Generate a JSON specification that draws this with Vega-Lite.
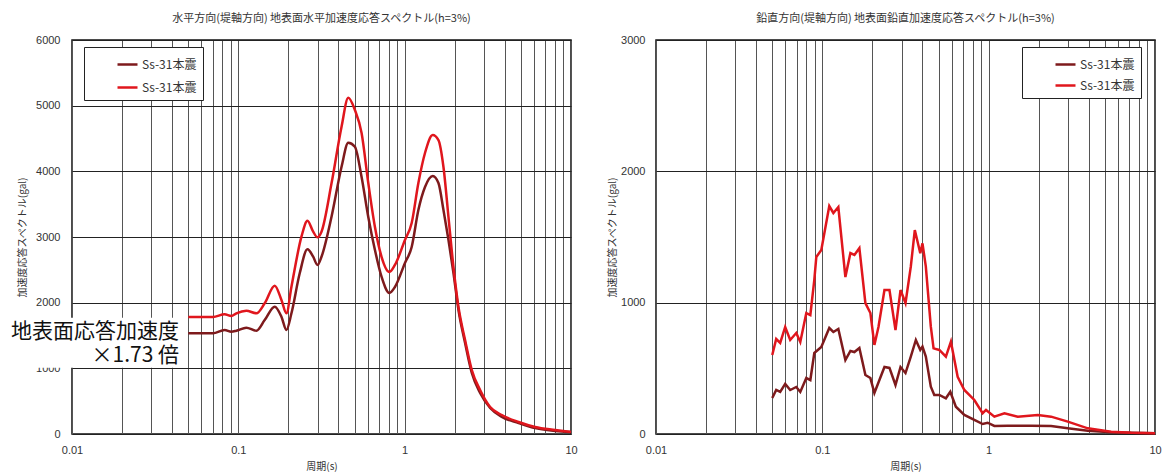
{
  "$schema": "https://vega.github.io/schema/vega-lite/v6.json",
  "padding": {"top": 12, "left": 8, "right": 2, "bottom": 0},
  "background": "white",
  "config": {
    "font": "Noto Sans CJK JP",
    "view": {"stroke": "#111", "strokeWidth": 1.5},
    "axis": {"labelFont": "Liberation Sans", "labelFontSize": 11, "labelColor": "#333", "ticks": false, "domain": false, "titleFont": "Noto Sans CJK JP", "titleFontSize": 10, "titleFontWeight": "normal", "titleColor": "#333", "gridColor": "#555", "gridOpacity": 1, "gridWidth": 1},
    "title": {"font": "Noto Sans CJK JP", "fontSize": 11, "fontWeight": "normal", "color": "#333", "offset": 10, "anchor": "middle"},
    "legend": {"title": null, "orient": "none", "symbolType": "stroke", "symbolSize": 400, "symbolStrokeWidth": 2.5, "labelFont": "Noto Sans CJK JP", "labelFontSize": 12, "labelColor": "#333", "padding": 6, "symbolOffset": 26, "labelOffset": 3, "strokeColor": "#222", "fillColor": "white", "cornerRadius": 0}
  },
  "datasets": {
    "h": [
      {"T":0.05,"A":1533,"s":"a"},{"T":0.0704,"A":1533,"s":"a"},{"T":0.0827,"A":1584,"s":"a"},{"T":0.0907,"A":1558,"s":"a"},{"T":0.0973,"A":1573,"s":"a"},{"T":0.1117,"A":1619,"s":"a"},{"T":0.1284,"A":1573,"s":"a"},{"T":0.144,"A":1736,"s":"a"},{"T":0.1655,"A":1939,"s":"a"},{"T":0.1816,"A":1786,"s":"a"},{"T":0.1946,"A":1584,"s":"a"},{"T":0.2086,"A":1838,"s":"a"},{"T":0.2339,"A":2447,"s":"a"},{"T":0.2604,"A":2813,"s":"a"},{"T":0.2818,"A":2700,"s":"a"},{"T":0.2992,"A":2574,"s":"a"},{"T":0.3162,"A":2700,"s":"a"},{"T":0.3633,"A":3309,"s":"a"},{"T":0.4174,"A":4070,"s":"a"},{"T":0.458,"A":4436,"s":"a"},{"T":0.502,"A":4375,"s":"a"},{"T":0.5508,"A":3914,"s":"a"},{"T":0.6043,"A":3304,"s":"a"},{"T":0.6626,"A":2802,"s":"a"},{"T":0.7267,"A":2391,"s":"a"},{"T":0.8089,"A":2147,"s":"a"},{"T":0.874,"A":2239,"s":"a"},{"T":1.004,"A":2604,"s":"a"},{"T":1.102,"A":2848,"s":"a"},{"T":1.209,"A":3411,"s":"a"},{"T":1.325,"A":3761,"s":"a"},{"T":1.475,"A":3929,"s":"a"},{"T":1.596,"A":3822,"s":"a"},{"T":1.711,"A":3411,"s":"a"},{"T":1.834,"A":2954,"s":"a"},{"T":1.965,"A":2452,"s":"a"},{"T":2.106,"A":1888,"s":"a"},{"T":2.308,"A":1386,"s":"a"},{"T":2.533,"A":929,"s":"a"},{"T":2.842,"A":624,"s":"a"},{"T":3.265,"A":396,"s":"a"},{"T":3.84,"A":259,"s":"a"},{"T":4.84,"A":168,"s":"a"},{"T":6.09,"A":91,"s":"a"},{"T":8.04,"A":46,"s":"a"},{"T":10,"A":30,"s":"a"},
      {"T":0.05,"A":1782,"s":"b"},{"T":0.0704,"A":1782,"s":"b"},{"T":0.0827,"A":1823,"s":"b"},{"T":0.0907,"A":1797,"s":"b"},{"T":0.0973,"A":1838,"s":"b"},{"T":0.1117,"A":1878,"s":"b"},{"T":0.1284,"A":1838,"s":"b"},{"T":0.144,"A":1990,"s":"b"},{"T":0.1655,"A":2258,"s":"b"},{"T":0.1816,"A":2041,"s":"b"},{"T":0.1946,"A":1838,"s":"b"},{"T":0.2086,"A":2243,"s":"b"},{"T":0.2396,"A":3005,"s":"b"},{"T":0.2604,"A":3248,"s":"b"},{"T":0.2818,"A":3081,"s":"b"},{"T":0.2992,"A":2995,"s":"b"},{"T":0.3162,"A":3081,"s":"b"},{"T":0.3633,"A":3817,"s":"b"},{"T":0.4174,"A":4680,"s":"b"},{"T":0.458,"A":5120,"s":"b"},{"T":0.502,"A":4934,"s":"b"},{"T":0.5508,"A":4584,"s":"b"},{"T":0.6043,"A":3822,"s":"b"},{"T":0.6626,"A":3152,"s":"b"},{"T":0.7267,"A":2695,"s":"b"},{"T":0.8089,"A":2467,"s":"b"},{"T":0.874,"A":2574,"s":"b"},{"T":1.004,"A":2954,"s":"b"},{"T":1.102,"A":3213,"s":"b"},{"T":1.209,"A":3822,"s":"b"},{"T":1.325,"A":4279,"s":"b"},{"T":1.475,"A":4553,"s":"b"},{"T":1.596,"A":4477,"s":"b"},{"T":1.711,"A":4066,"s":"b"},{"T":1.834,"A":3304,"s":"b"},{"T":1.965,"A":2543,"s":"b"},{"T":2.106,"A":1934,"s":"b"},{"T":2.308,"A":1431,"s":"b"},{"T":2.533,"A":975,"s":"b"},{"T":2.842,"A":670,"s":"b"},{"T":3.265,"A":411,"s":"b"},{"T":3.84,"A":289,"s":"b"},{"T":4.84,"A":183,"s":"b"},{"T":6.09,"A":107,"s":"b"},{"T":8.04,"A":61,"s":"b"},{"T":10,"A":30,"s":"b"}
    ],
    "v": [
      {"T":0.05,"A":274,"s":"a"},{"T":0.0528,"A":335,"s":"a"},{"T":0.0558,"A":320,"s":"a"},{"T":0.0598,"A":381,"s":"a"},{"T":0.0641,"A":335,"s":"a"},{"T":0.0697,"A":358,"s":"a"},{"T":0.0737,"A":320,"s":"a"},{"T":0.0801,"A":426,"s":"a"},{"T":0.0847,"A":411,"s":"a"},{"T":0.0895,"A":617,"s":"a"},{"T":0.0986,"A":662,"s":"a"},{"T":0.1101,"A":807,"s":"a"},{"T":0.1165,"A":777,"s":"a"},{"T":0.1248,"A":800,"s":"a"},{"T":0.1376,"A":563,"s":"a"},{"T":0.1475,"A":632,"s":"a"},{"T":0.1559,"A":624,"s":"a"},{"T":0.167,"A":655,"s":"a"},{"T":0.1815,"A":449,"s":"a"},{"T":0.1945,"A":426,"s":"a"},{"T":0.2056,"A":312,"s":"a"},{"T":0.2363,"A":510,"s":"a"},{"T":0.2533,"A":503,"s":"a"},{"T":0.2753,"A":373,"s":"a"},{"T":0.2951,"A":510,"s":"a"},{"T":0.3162,"A":464,"s":"a"},{"T":0.3403,"A":589,"s":"a"},{"T":0.365,"A":716,"s":"a"},{"T":0.388,"A":640,"s":"a"},{"T":0.4,"A":665,"s":"a"},{"T":0.419,"A":589,"s":"a"},{"T":0.449,"A":360,"s":"a"},{"T":0.471,"A":297,"s":"a"},{"T":0.505,"A":297,"s":"a"},{"T":0.553,"A":272,"s":"a"},{"T":0.588,"A":322,"s":"a"},{"T":0.635,"A":208,"s":"a"},{"T":0.714,"A":145,"s":"a"},{"T":0.82,"A":107,"s":"a"},{"T":0.92,"A":76,"s":"a"},{"T":0.986,"A":86,"s":"a"},{"T":1.082,"A":61,"s":"a"},{"T":1.3,"A":63,"s":"a"},{"T":1.8,"A":63,"s":"a"},{"T":2.373,"A":61,"s":"a"},{"T":2.99,"A":43,"s":"a"},{"T":3.945,"A":25,"s":"a"},{"T":5.45,"A":13,"s":"a"},{"T":10,"A":5,"s":"a"},
      {"T":0.05,"A":601,"s":"b"},{"T":0.0528,"A":723,"s":"b"},{"T":0.0558,"A":693,"s":"b"},{"T":0.0598,"A":815,"s":"b"},{"T":0.0641,"A":716,"s":"b"},{"T":0.0697,"A":769,"s":"b"},{"T":0.0737,"A":700,"s":"b"},{"T":0.0801,"A":921,"s":"b"},{"T":0.0847,"A":906,"s":"b"},{"T":0.0895,"A":1173,"s":"b"},{"T":0.092,"A":1348,"s":"b"},{"T":0.0986,"A":1401,"s":"b"},{"T":0.1101,"A":1736,"s":"b"},{"T":0.1165,"A":1683,"s":"b"},{"T":0.1248,"A":1728,"s":"b"},{"T":0.1376,"A":1195,"s":"b"},{"T":0.1475,"A":1378,"s":"b"},{"T":0.1559,"A":1363,"s":"b"},{"T":0.167,"A":1416,"s":"b"},{"T":0.1815,"A":997,"s":"b"},{"T":0.1945,"A":921,"s":"b"},{"T":0.2056,"A":678,"s":"b"},{"T":0.2175,"A":815,"s":"b"},{"T":0.2363,"A":1096,"s":"b"},{"T":0.2533,"A":1096,"s":"b"},{"T":0.2753,"A":792,"s":"b"},{"T":0.2951,"A":1096,"s":"b"},{"T":0.3162,"A":997,"s":"b"},{"T":0.3403,"A":1274,"s":"b"},{"T":0.3597,"A":1553,"s":"b"},{"T":0.388,"A":1376,"s":"b"},{"T":0.4,"A":1452,"s":"b"},{"T":0.419,"A":1274,"s":"b"},{"T":0.449,"A":817,"s":"b"},{"T":0.4664,"A":652,"s":"b"},{"T":0.505,"A":640,"s":"b"},{"T":0.553,"A":589,"s":"b"},{"T":0.593,"A":703,"s":"b"},{"T":0.651,"A":436,"s":"b"},{"T":0.714,"A":335,"s":"b"},{"T":0.82,"A":259,"s":"b"},{"T":0.92,"A":158,"s":"b"},{"T":0.964,"A":183,"s":"b"},{"T":1.082,"A":132,"s":"b"},{"T":1.244,"A":158,"s":"b"},{"T":1.495,"A":132,"s":"b"},{"T":1.973,"A":145,"s":"b"},{"T":2.373,"A":132,"s":"b"},{"T":2.99,"A":94,"s":"b"},{"T":3.945,"A":43,"s":"b"},{"T":5.45,"A":18,"s":"b"},{"T":7.2,"A":10,"s":"b"},{"T":10,"A":5,"s":"b"}
    ],
    "note": [{"x":0.044,"y":1553,"t":"地表面応答加速度\n×1.73 倍"}],
    "box": [{"x1":0.0042,"x2":0.047,"y1":1010,"y2":1770}]
  },
  "spacing": 28,
  "resolve": {"scale": {"x": "independent", "y": "independent", "color": "independent"}, "legend": {"color": "independent"}},
  "hconcat": [
    {
      "width": 499,
      "height": 394,
      "title": {"text": "水平方向(堤軸方向) 地表面水平加速度応答スペクトル(h=3%)"},
      "layer": [
        {
          "data": {"name": "h"},
          "mark": {"type": "line", "interpolate": "monotone", "strokeWidth": 2.5},
          "encoding": {
            "x": {"field": "T", "type": "quantitative", "scale": {"type": "log", "domain": [0.01, 10]},
              "axis": {"title": "周期(s)", "grid": true, "labelFlush": false, "labelPadding": 10, "titlePadding": 6,
                "values": [0.01,0.02,0.03,0.04,0.05,0.06,0.07,0.08,0.09,0.1,0.2,0.3,0.4,0.5,0.6,0.7,0.8,0.9,1,2,3,4,5,6,7,8,9,10],
                "labelExpr": "datum.value==0.01?'0.01':datum.value==0.1?'0.1':datum.value==1?'1':datum.value==10?'10':''"}},
            "y": {"field": "A", "type": "quantitative", "scale": {"domain": [0, 6000]},
              "axis": {"title": "加速度応答スペクトル(gal)", "format": "d", "grid": true, "gridColor": "#222", "values": [0,1000,2000,3000,4000,5000,6000], "labelPadding": 12, "titlePadding": 8}},
            "color": {"field": "s", "type": "nominal", "scale": {"domain": ["a", "b"], "range": ["#7e1a1c", "#e0161d"]},
              "legend": {"legendX": 12, "legendY": 7, "rowPadding": 5, "labelExpr": "'Ss-31本震'"}}
          }
        },
        {
          "data": {"name": "box"},
          "mark": {"type": "rect", "fill": "white"},
          "encoding": {
            "x": {"field": "x1", "type": "quantitative"},
            "x2": {"field": "x2"},
            "y": {"field": "y1", "type": "quantitative"},
            "y2": {"field": "y2"}
          }
        },
        {
          "data": {"name": "note"},
          "mark": {"type": "text", "align": "right", "baseline": "middle", "fontSize": 21, "lineHeight": 24, "lineBreak": "\n", "font": "Noto Sans CJK JP", "color": "#111"},
          "encoding": {
            "x": {"field": "x", "type": "quantitative"},
            "y": {"field": "y", "type": "quantitative"},
            "text": {"field": "t"}
          }
        }
      ]
    },
    {
      "width": 499,
      "height": 394,
      "title": {"text": "鉛直方向(堤軸方向) 地表面鉛直加速度応答スペクトル(h=3%)"},
      "data": {"name": "v"},
      "mark": {"type": "line", "strokeWidth": 2.5},
      "encoding": {
        "x": {"field": "T", "type": "quantitative", "scale": {"type": "log", "domain": [0.01, 10]},
          "axis": {"title": "周期(s)", "grid": true, "labelFlush": false, "labelPadding": 10, "titlePadding": 6,
            "values": [0.01,0.02,0.03,0.04,0.05,0.06,0.07,0.08,0.09,0.1,0.2,0.3,0.4,0.5,0.6,0.7,0.8,0.9,1,2,3,4,5,6,7,8,9,10],
            "labelExpr": "datum.value==0.01?'0.01':datum.value==0.1?'0.1':datum.value==1?'1':datum.value==10?'10':''"}},
        "y": {"field": "A", "type": "quantitative", "scale": {"domain": [0, 3000]},
          "axis": {"title": "加速度応答スペクトル(gal)", "format": "d", "grid": true, "gridColor": "#222", "values": [0,1000,2000,3000], "labelPadding": 11, "titlePadding": 3}},
        "color": {"field": "s", "type": "nominal", "scale": {"domain": ["a", "b"], "range": ["#7e1a1c", "#e0161d"]},
          "legend": {"legendX": 366, "legendY": 7, "rowPadding": 3, "labelExpr": "'Ss-31本震'"}}
      }
    }
  ]
}
